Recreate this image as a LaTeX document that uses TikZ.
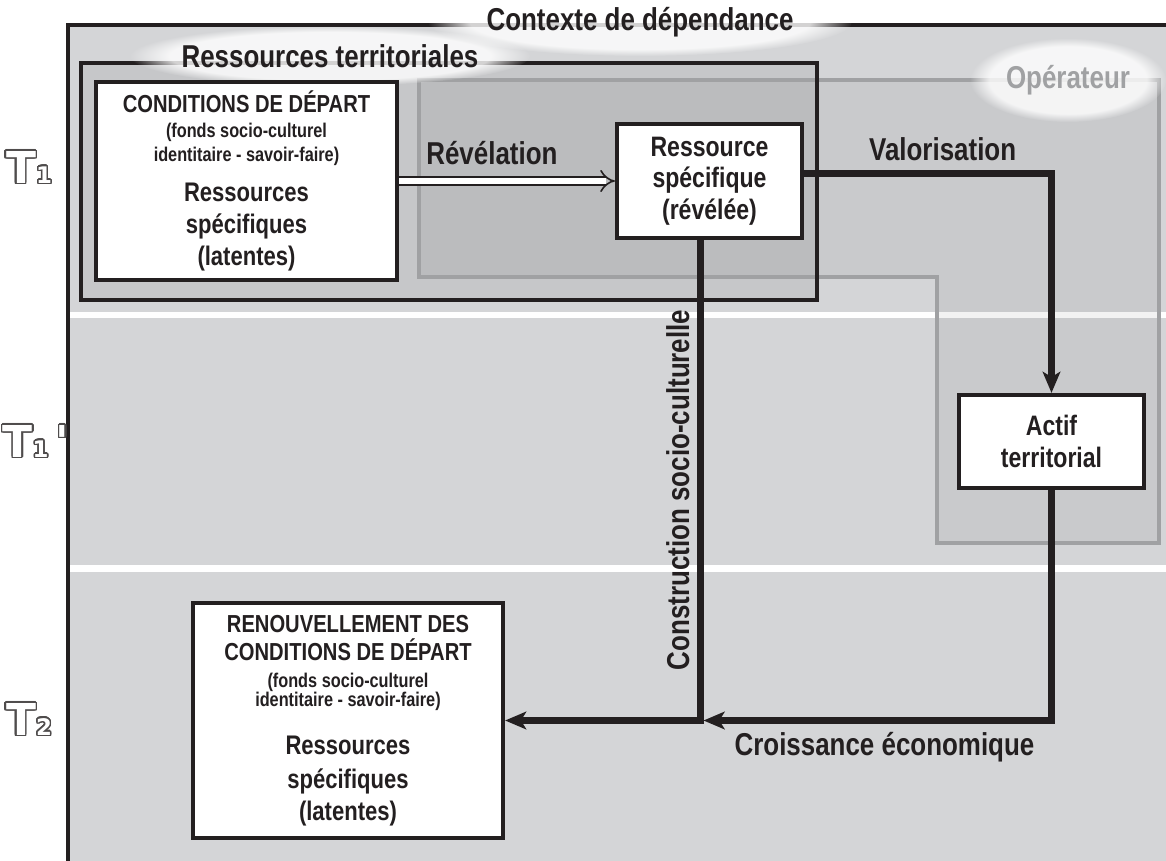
\documentclass[tikz,border=0pt]{standalone}
\usepackage{fontspec}
\setmainfont{Liberation Sans}[FakeStretch=0.82]
\newfontfamily\tfont{DejaVu Sans}
\usepackage{contour}
\contourlength{0.8pt}
\contournumber{24}
\usetikzlibrary{arrows.meta,fadings}

\definecolor{bggray}{RGB}{212,213,215}
\definecolor{rtgray}{RGB}{198,199,201}
\definecolor{opgray}{RGB}{160,161,163}
\definecolor{ink}{RGB}{35,31,32}

\newcommand{\captxt}{\fontsize{14}{14}\selectfont}
\newcommand{\smtxt}{\fontsize{11.3}{13.6}\selectfont}
\newcommand{\bigtxt}{\fontsize{15.3}{18.2}\selectfont}
\newcommand{\tmark}[2]{\textcolor{white}{\contour{ink!80}{\tfont\bfseries\fontsize{25}{25}\selectfont T{\fontsize{13}{13}\selectfont #1}#2}}}

\begin{document}
\begin{tikzpicture}[x=0.02cm, y=-0.02cm,
   box/.style={draw=ink, line width=2.4pt, fill=white, align=center, text=ink, inner sep=2pt,
      font=\bfseries\fontsize{15.3}{18.2}\selectfont},
   conn/.style={draw=ink, line width=4pt, -{Stealth[length=12pt, width=10pt, inset=3pt]}},
   lbl/.style={font=\bfseries\fontsize{18}{20}\selectfont, text=ink, inner sep=1pt},
   glow/.style={white, fill opacity=.8, path fading=circle with fuzzy edge 20 percent}]

\useasboundingbox (0,0) rectangle (1166,861);

% contexte
\fill[bggray] (68,25) rectangle (1172,866);
\fill[white] (70,312) rectangle (1172,318);
\fill[white] (70,565) rectangle (1172,572);
\draw[ink, line width=2.6pt] (1172,25) -- (68,25) -- (68,866);

% ressources territoriales / operateur
\fill[rtgray] (81,63) rectangle (817,300);
\draw[opgray, line width=2pt, fill=black, fill opacity=.05]
   (419,80) -- (1159,80) -- (1159,543) -- (937,543) -- (937,277) -- (419,277) -- cycle;
\draw[ink, line width=2pt] (81,63) rectangle (817,300);

% titres
\coordinate (ctxpos) at (640,22);
\coordinate (rtpos) at (330,56);
\coordinate (oppos) at (1068,80);
\fill[glow] (ctxpos) ellipse [x radius=212, y radius=34];
\fill[glow] (rtpos) ellipse [x radius=200, y radius=30];
\fill[glow] (oppos) ellipse [x radius=98, y radius=42];
\node[lbl] (ctx) at (ctxpos) {Contexte de dépendance};
\node[lbl] (rt) at (rtpos) {Ressources territoriales};
\node[lbl, text=opgray] (op) at (oppos) {Opérateur};

\node (t1) at (29,168) {\tmark{1}{}};
\node (t1b) at (36,442) {\tmark{1}{\,\textquotesingle}};
\node (t2) at (29,720) {\tmark{2}{}};

\node[box, minimum width=6.02cm, minimum height=3.96cm] (cond) at (246.5,181)
   {\captxt CONDITIONS DE DÉPART\\[-4pt] \smtxt (fonds socio-culturel\\[-4.6pt] \smtxt identitaire - savoir-faire)\\[5pt]
    Ressources\\spécifiques\\(latentes)};
\node[box, minimum width=3.7cm, minimum height=2.28cm, font=\bfseries\fontsize{16}{18}\selectfont]
   (res) at (709.5,181) {Ressource\\spécifique\\(révélée)};
\node[box, minimum width=3.7cm, minimum height=1.86cm, font=\bfseries\fontsize{16}{18}\selectfont]
   (act) at (1051.5,441.5) {Actif\\territorial};
\node[box, minimum width=6.2cm, minimum height=4.7cm] (ren) at (348,720.5)
   {\captxt RENOUVELLEMENT DES\\[-2.3pt] \captxt CONDITIONS DE DÉPART\\[-2.9pt] \smtxt (fonds socio-culturel\\[-6.9pt]
    \smtxt identitaire - savoir-faire)\\[9pt] Ressources\\[1pt] spécifiques\\(latentes)};

\draw[draw=ink, double=white, double distance=3.5pt, line width=0.9pt, -{Implies[scale=1.8]}] (cond) -- (res)
   node[lbl, pos=.43, above=8pt] {Révélation};
\draw[conn] ([yshift=4.5pt]res.east) -| (act.north) node[lbl, pos=.28, above=4pt] {Valorisation};
\coordinate (drop) at ([xshift=-5.4pt]res.south);
\draw[conn] (drop) |- (ren.east) node[lbl, rotate=90, pos=.26, above=3pt] {Construction socio-culturelle};
\draw[conn] (act.south) |- ([xshift=2pt]drop |- ren.east) node[lbl, pos=.74, below=4pt] {Croissance économique};

\end{tikzpicture}
\end{document}
